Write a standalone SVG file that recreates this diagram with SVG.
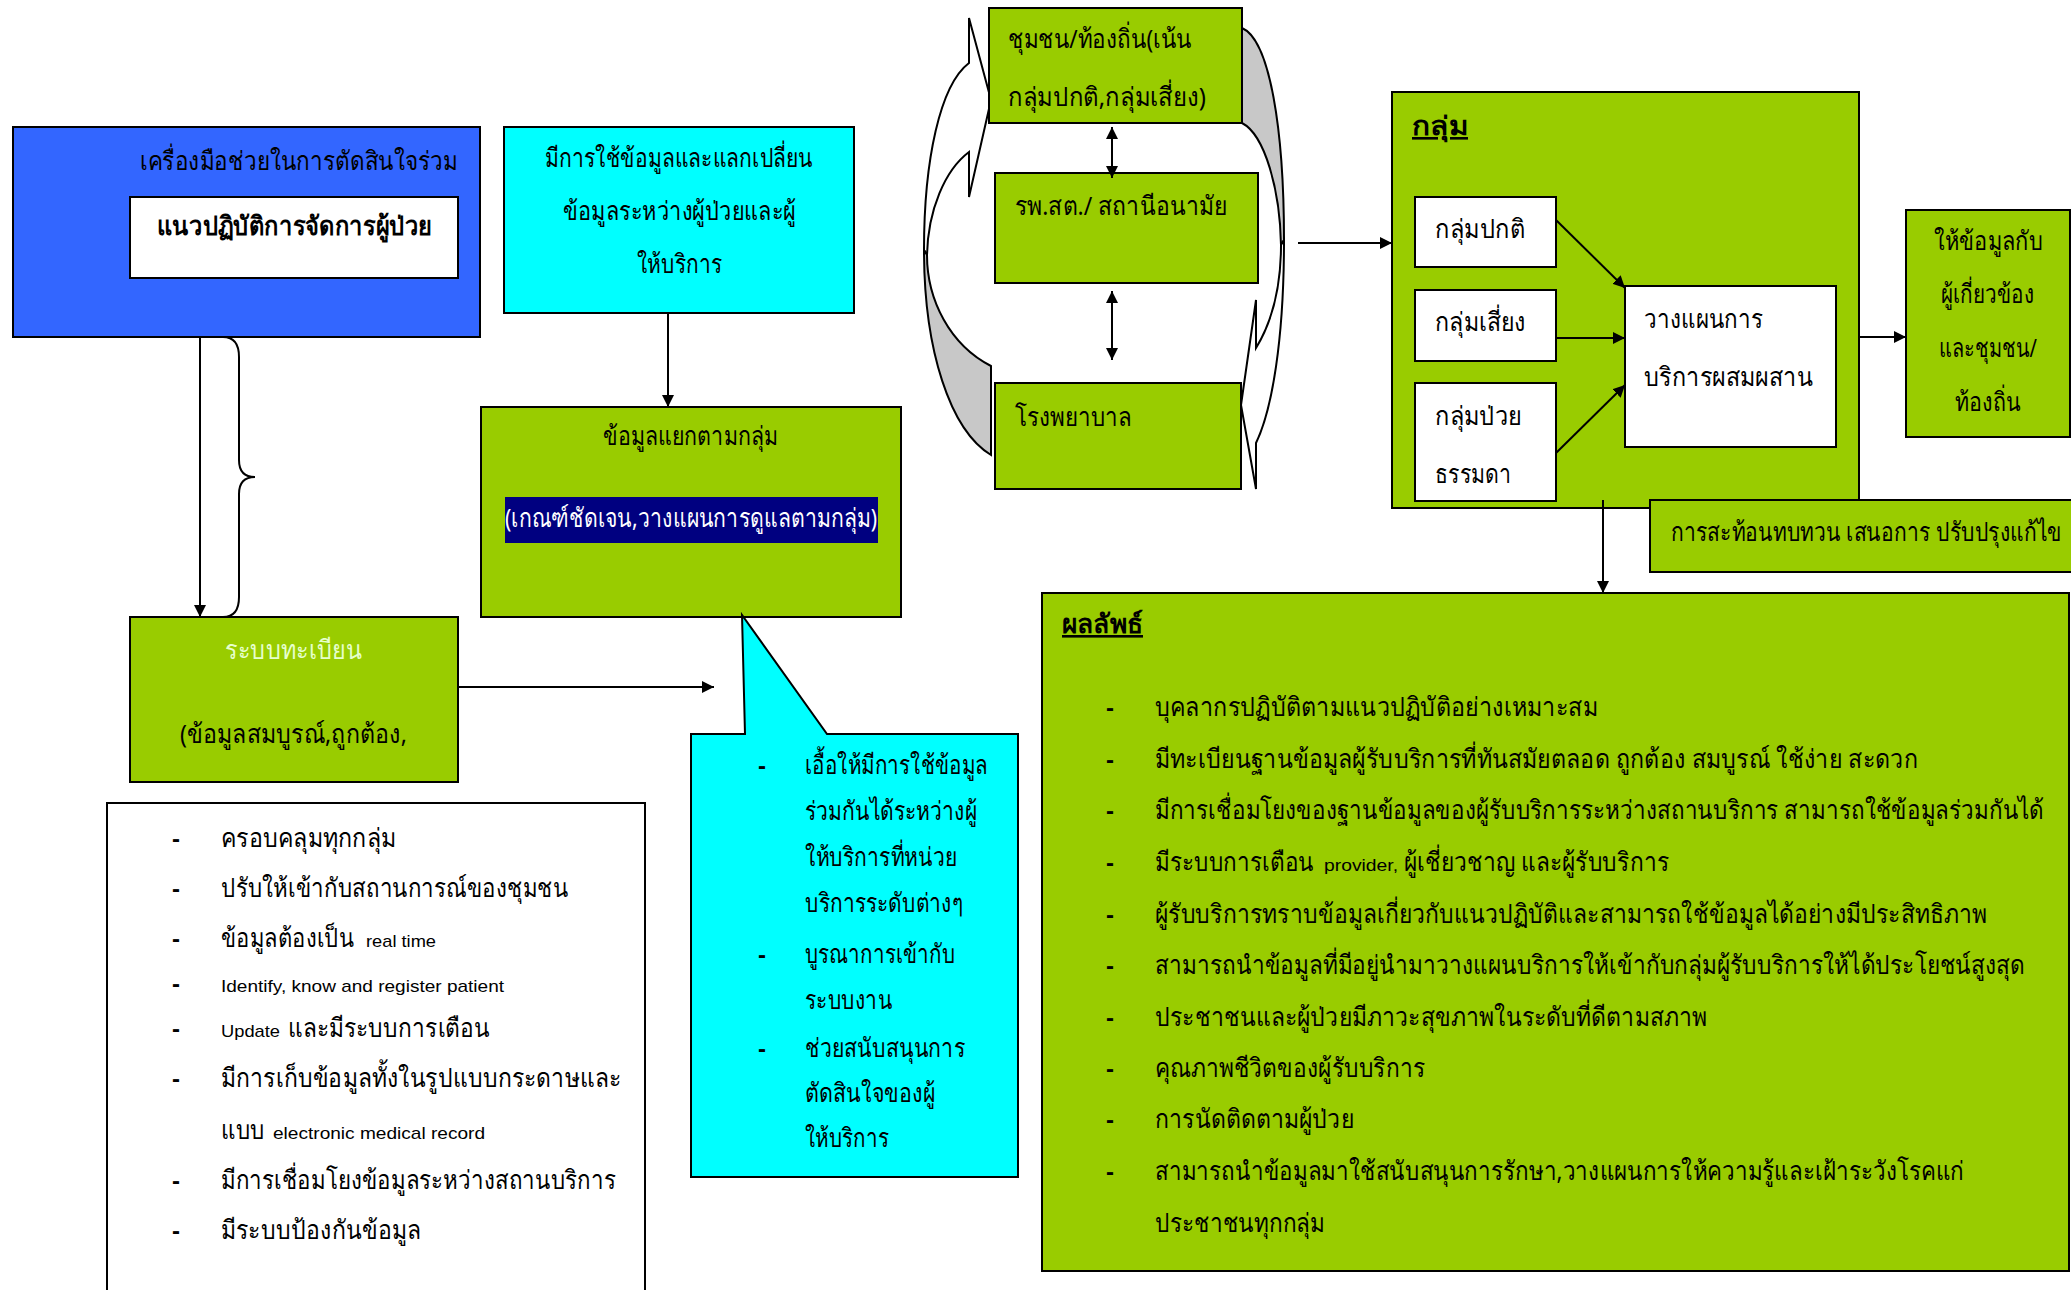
<svg xmlns="http://www.w3.org/2000/svg" width="2071" height="1290" viewBox="0 0 2071 1290">
<style>
.th{font-family:"Noto Sans","DejaVu Sans",sans-serif;font-size:26px;fill:#000}
.en{font-family:"Liberation Sans",Arial,sans-serif;font-size:17px;fill:#000}
.b{font-weight:bold}
.dash{font-family:"Liberation Sans",Arial,sans-serif;font-size:24px;font-weight:bold;fill:#000}
.box{stroke:#000;stroke-width:2}
.g{fill:#99CC00}
.w{fill:#FFFFFF}
.c{fill:#00FFFF}
.ln{stroke:#000;stroke-width:2;fill:none}
.cv{stroke:#000;stroke-width:2}
</style>
<defs>
<marker id="ah" viewBox="0 0 12 12" refX="12" refY="6" markerWidth="12" markerHeight="12" markerUnits="userSpaceOnUse" orient="auto-start-reverse">
<path d="M0,0 L12,6 L0,12 Z" fill="#000"/>
</marker>
</defs>
<rect width="2071" height="1290" fill="#FFFFFF"/>

<g id="cycle-arrows">
<path class="cv" fill="#FFFFFF" d="M969,63 C940,85 924,160 924,250 L927,255 C928,210 945,170 969,152 L969,197 L991,100 L969,18 Z"/>
<path class="cv" fill="#C8C8C8" d="M924,250 C924,350 950,430 991,455 L991,366 C950,345 927,300 927,255 Z"/>
<path class="cv" fill="#C8C8C8" d="M1242,28 C1270,40 1284,130 1284,240 L1281,245 C1280,190 1265,135 1242,123 Z"/>
<path class="cv" fill="#FFFFFF" d="M1284,240 C1284,340 1272,410 1256,443 L1256,489 L1241,405 L1256,300 L1256,348 C1270,325 1281,290 1281,245 Z"/>
</g>

<g id="tool">
<rect class="box" x="13" y="127" width="467" height="210" fill="#3366FF"/>
<text class="th" x="140" y="170" textLength="318" lengthAdjust="spacingAndGlyphs">เครื่องมือช่วยในการตัดสินใจร่วม</text>
<rect class="box w" x="130" y="197" width="328" height="81"/>
<text class="th b" x="157" y="235" textLength="275" lengthAdjust="spacingAndGlyphs">แนวปฏิบัติการจัดการผู้ป่วย</text>
</g>

<g id="exchange">
<rect class="box c" x="504" y="127" width="350" height="186"/>
<text class="th" x="545" y="167" textLength="268" lengthAdjust="spacingAndGlyphs">มีการใช้ข้อมูลและแลกเปลี่ยน</text>
<text class="th" x="563" y="220" textLength="233" lengthAdjust="spacingAndGlyphs">ข้อมูลระหว่างผู้ป่วยและผู้</text>
<text class="th" x="637" y="273" textLength="85" lengthAdjust="spacingAndGlyphs">ให้บริการ</text>
</g>

<g id="group-data">
<rect class="box g" x="481" y="407" width="420" height="210"/>
<text class="th" x="603" y="445" textLength="175" lengthAdjust="spacingAndGlyphs">ข้อมูลแยกตามกลุ่ม</text>
<rect x="505" y="497" width="373" height="46" fill="#000080"/>
<text class="th" x="505" y="527" style="fill:#FFFFFF" textLength="372" lengthAdjust="spacingAndGlyphs">(เกณฑ์ชัดเจน,วางแผนการดูแลตามกลุ่ม)</text>
</g>

<g id="registration">
<rect class="box g" x="130" y="617" width="328" height="165"/>
<text class="th" x="225" y="659" style="fill:#E6FFCC" textLength="137" lengthAdjust="spacingAndGlyphs">ระบบทะเบียน</text>
<text class="th" x="180" y="743" textLength="227" lengthAdjust="spacingAndGlyphs">(ข้อมูลสมบูรณ์,ถูกต้อง,</text>
</g>

<g id="requirements">
<rect x="107" y="803" width="538" height="500" fill="#FFFFFF" stroke="#000" stroke-width="2"/>
<g class="dash">
<text x="172" y="847">-</text><text x="172" y="897">-</text><text x="172" y="947">-</text><text x="172" y="992">-</text>
<text x="172" y="1037">-</text><text x="172" y="1087">-</text><text x="172" y="1189">-</text><text x="172" y="1239">-</text>
</g>
<g class="th">
<text x="221" y="847" textLength="175" lengthAdjust="spacingAndGlyphs">ครอบคลุมทุกกลุ่ม</text>
<text x="221" y="897" textLength="347" lengthAdjust="spacingAndGlyphs">ปรับให้เข้ากับสถานการณ์ของชุมชน</text>
<text x="221" y="947" textLength="133" lengthAdjust="spacingAndGlyphs">ข้อมูลต้องเป็น</text>
<text x="288" y="1037" textLength="202" lengthAdjust="spacingAndGlyphs">และมีระบบการเตือน</text>
<text x="221" y="1087" textLength="400" lengthAdjust="spacingAndGlyphs">มีการเก็บข้อมูลทั้งในรูปแบบกระดาษและ</text>
<text x="221" y="1139" textLength="44" lengthAdjust="spacingAndGlyphs">แบบ</text>
<text x="221" y="1189" textLength="395" lengthAdjust="spacingAndGlyphs">มีการเชื่อมโยงข้อมูลระหว่างสถานบริการ</text>
<text x="221" y="1239" textLength="200" lengthAdjust="spacingAndGlyphs">มีระบบป้องกันข้อมูล</text>
</g>
<text class="en" x="366" y="947" textLength="70" lengthAdjust="spacingAndGlyphs">real time</text>
<text class="en" x="221" y="992" textLength="283" lengthAdjust="spacingAndGlyphs">Identify, know and register patient</text>
<text class="en" x="221" y="1037" textLength="59" lengthAdjust="spacingAndGlyphs">Update</text>
<text class="en" x="273" y="1139" textLength="212" lengthAdjust="spacingAndGlyphs">electronic medical record</text>
</g>

<g id="callout">
<path class="box c" d="M691,734 L745,734 L742,615 L827,734 L1018,734 L1018,1177 L691,1177 Z"/>
<g class="dash">
<text x="758" y="774">-</text><text x="758" y="963">-</text><text x="758" y="1057">-</text>
</g>
<g class="th">
<text x="805" y="774" textLength="183" lengthAdjust="spacingAndGlyphs">เอื้อให้มีการใช้ข้อมูล</text>
<text x="805" y="820" textLength="172" lengthAdjust="spacingAndGlyphs">ร่วมกันได้ระหว่างผู้</text>
<text x="805" y="866" textLength="152" lengthAdjust="spacingAndGlyphs">ให้บริการที่หน่วย</text>
<text x="805" y="912" textLength="158" lengthAdjust="spacingAndGlyphs">บริการระดับต่างๆ</text>
<text x="805" y="963" textLength="150" lengthAdjust="spacingAndGlyphs">บูรณาการเข้ากับ</text>
<text x="805" y="1009" textLength="87" lengthAdjust="spacingAndGlyphs">ระบบงาน</text>
<text x="805" y="1057" textLength="160" lengthAdjust="spacingAndGlyphs">ช่วยสนับสนุนการ</text>
<text x="805" y="1102" textLength="130" lengthAdjust="spacingAndGlyphs">ตัดสินใจของผู้</text>
<text x="805" y="1147" textLength="84" lengthAdjust="spacingAndGlyphs">ให้บริการ</text>
</g>
</g>

<g id="community">
<rect class="box g" x="989" y="8" width="253" height="115"/>
<text class="th" x="1008" y="48" textLength="184" lengthAdjust="spacingAndGlyphs">ชุมชน/ท้องถิ่น(เน้น</text>
<text class="th" x="1008" y="106" textLength="198" lengthAdjust="spacingAndGlyphs">กลุ่มปกติ,กลุ่มเสี่ยง)</text>
</g>
<g id="health-station">
<rect class="box g" x="995" y="173" width="263" height="110"/>
<text class="th" x="1015" y="215" textLength="212" lengthAdjust="spacingAndGlyphs">รพ.สต./ สถานีอนามัย</text>
</g>
<g id="hospital">
<rect class="box g" x="995" y="383" width="246" height="106"/>
<text class="th" x="1015" y="426" textLength="117" lengthAdjust="spacingAndGlyphs">โรงพยาบาล</text>
</g>

<g id="groups">
<rect class="box g" x="1392" y="92" width="467" height="416"/>
<text class="th b" x="1412" y="135" text-decoration="underline" textLength="56" lengthAdjust="spacingAndGlyphs">กลุ่ม</text>
</g>
<g id="normal">
<rect class="box w" x="1415" y="197" width="141" height="70"/>
<text class="th" x="1435" y="238" textLength="90" lengthAdjust="spacingAndGlyphs">กลุ่มปกติ</text>
</g>
<g id="risk">
<rect class="box w" x="1415" y="290" width="141" height="71"/>
<text class="th" x="1435" y="331" textLength="91" lengthAdjust="spacingAndGlyphs">กลุ่มเสี่ยง</text>
</g>
<g id="sick">
<rect class="box w" x="1415" y="383" width="141" height="118"/>
<text class="th" x="1435" y="425" textLength="87" lengthAdjust="spacingAndGlyphs">กลุ่มป่วย</text>
<text class="th" x="1435" y="483" textLength="76" lengthAdjust="spacingAndGlyphs">ธรรมดา</text>
</g>
<g id="planning">
<rect class="box w" x="1625" y="286" width="211" height="161"/>
<text class="th" x="1644" y="328" textLength="119" lengthAdjust="spacingAndGlyphs">วางแผนการ</text>
<text class="th" x="1644" y="386" textLength="169" lengthAdjust="spacingAndGlyphs">บริการผสมผสาน</text>
</g>
<g id="inform">
<rect class="box g" x="1906" y="210" width="164" height="227"/>
<text class="th" x="1934" y="250" textLength="109" lengthAdjust="spacingAndGlyphs">ให้ข้อมูลกับ</text>
<text class="th" x="1941" y="303" textLength="93" lengthAdjust="spacingAndGlyphs">ผู้เกี่ยวข้อง</text>
<text class="th" x="1939" y="357" textLength="98" lengthAdjust="spacingAndGlyphs">และชุมชน/</text>
<text class="th" x="1955" y="411" textLength="66" lengthAdjust="spacingAndGlyphs">ท้องถิ่น</text>
</g>
<g id="reflection">
<rect class="box g" x="1650" y="500" width="430" height="72"/>
<text class="th" x="1671" y="541" textLength="391" lengthAdjust="spacingAndGlyphs">การสะท้อนทบทวน เสนอการ ปรับปรุงแก้ไข</text>
</g>

<g id="outcome">
<rect class="box g" x="1042" y="593" width="1027" height="678"/>
<text class="th b" x="1062" y="633" text-decoration="underline" textLength="81" lengthAdjust="spacingAndGlyphs">ผลลัพธ์</text>
<g class="dash">
<text x="1106" y="716">-</text><text x="1106" y="768">-</text><text x="1106" y="819">-</text><text x="1106" y="871">-</text>
<text x="1106" y="923">-</text><text x="1106" y="974">-</text><text x="1106" y="1026">-</text><text x="1106" y="1077">-</text>
<text x="1106" y="1128">-</text><text x="1106" y="1180">-</text>
</g>
<g class="th">
<text x="1155" y="716" textLength="443" lengthAdjust="spacingAndGlyphs">บุคลากรปฏิบัติตามแนวปฏิบัติอย่างเหมาะสม</text>
<text x="1155" y="768" textLength="763" lengthAdjust="spacingAndGlyphs">มีทะเบียนฐานข้อมูลผู้รับบริการที่ทันสมัยตลอด ถูกต้อง สมบูรณ์ ใช้ง่าย สะดวก</text>
<text x="1155" y="819" textLength="889" lengthAdjust="spacingAndGlyphs">มีการเชื่อมโยงของฐานข้อมูลของผู้รับบริการระหว่างสถานบริการ สามารถใช้ข้อมูลร่วมกันได้</text>
<text x="1155" y="871" textLength="159" lengthAdjust="spacingAndGlyphs">มีระบบการเตือน</text><text x="1404" y="871" textLength="265" lengthAdjust="spacingAndGlyphs">ผู้เชี่ยวชาญ และผู้รับบริการ</text>
<text x="1155" y="923" textLength="832" lengthAdjust="spacingAndGlyphs">ผู้รับบริการทราบข้อมูลเกี่ยวกับแนวปฏิบัติและสามารถใช้ข้อมูลได้อย่างมีประสิทธิภาพ</text>
<text x="1155" y="974" textLength="870" lengthAdjust="spacingAndGlyphs">สามารถนำข้อมูลที่มีอยู่นำมาวางแผนบริการให้เข้ากับกลุ่มผู้รับบริการให้ได้ประโยชน์สูงสุด</text>
<text x="1155" y="1026" textLength="552" lengthAdjust="spacingAndGlyphs">ประชาชนและผู้ป่วยมีภาวะสุขภาพในระดับที่ดีตามสภาพ</text>
<text x="1155" y="1077" textLength="270" lengthAdjust="spacingAndGlyphs">คุณภาพชีวิตของผู้รับบริการ</text>
<text x="1155" y="1128" textLength="199" lengthAdjust="spacingAndGlyphs">การนัดติดตามผู้ป่วย</text>
<text x="1155" y="1180" textLength="809" lengthAdjust="spacingAndGlyphs">สามารถนำข้อมูลมาใช้สนับสนุนการรักษา,วางแผนการให้ความรู้และเฝ้าระวังโรคแก่</text>
<text x="1155" y="1232" textLength="170" lengthAdjust="spacingAndGlyphs">ประชาชนทุกกลุ่ม</text>
</g>
<text class="en" x="1324" y="871" textLength="74" lengthAdjust="spacingAndGlyphs">provider,</text>
</g>

<g id="connectors">
<line class="ln" x1="200" y1="337" x2="200" y2="617" marker-end="url(#ah)"/>
<path class="ln" d="M223,337 Q239,337 239,357 L239,460 Q239,477 255,477 Q239,477 239,494 L239,597 Q239,617 223,617"/>
<line class="ln" x1="668" y1="313" x2="668" y2="407" marker-end="url(#ah)"/>
<line class="ln" x1="458" y1="687" x2="714" y2="687" marker-end="url(#ah)"/>
<line class="ln" x1="1112" y1="127" x2="1112" y2="178" marker-start="url(#ah)" marker-end="url(#ah)"/>
<line class="ln" x1="1112" y1="291" x2="1112" y2="360" marker-start="url(#ah)" marker-end="url(#ah)"/>
<line class="ln" x1="1298" y1="243" x2="1392" y2="243" marker-end="url(#ah)"/>
<line class="ln" x1="1556" y1="220" x2="1625" y2="288" marker-end="url(#ah)"/>
<line class="ln" x1="1556" y1="338" x2="1625" y2="338" marker-end="url(#ah)"/>
<line class="ln" x1="1556" y1="453" x2="1625" y2="385" marker-end="url(#ah)"/>
<line class="ln" x1="1859" y1="337" x2="1906" y2="337" marker-end="url(#ah)"/>
<line class="ln" x1="1603" y1="500" x2="1603" y2="593" marker-end="url(#ah)"/>
</g>
</svg>
